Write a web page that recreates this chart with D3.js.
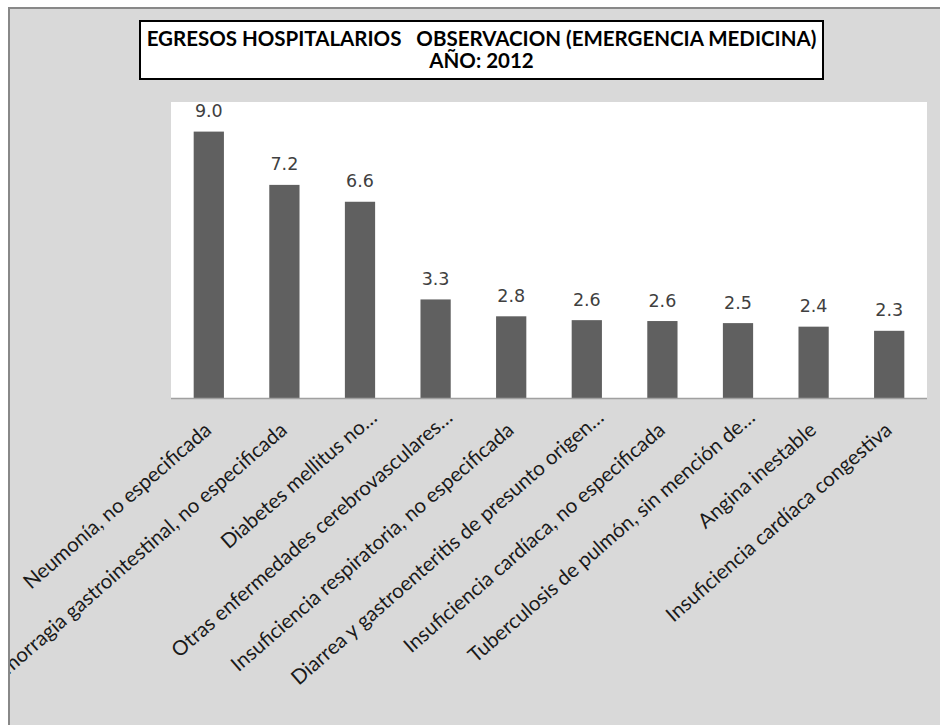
<!DOCTYPE html>
<html>
<head>
<meta charset="utf-8">
<script src="https://cdn.jsdelivr.net/npm/d3@7"></script>
<style>
  html, body { margin: 0; padding: 0; background: #fff; }
  svg { display: block; }
</style>
</head>
<body>
<svg id="chart" width="940" height="725"></svg>
<script>
// data
var titleLines = ['EGRESOS HOSPITALARIOS   OBSERVACION (EMERGENCIA MEDICINA)', 'AÑO: 2012'];
var categories = [
  'Neumonía, no especificada',
  'Hemorragia gastrointestinal, no especificada',
  'Diabetes mellitus no…',
  'Otras enfermedades cerebrovasculares…',
  'Insuficiencia respiratoria, no especificada',
  'Diarrea y gastroenteritis de presunto origen…',
  'Insuficiencia cardíaca, no especificada',
  'Tuberculosis de pulmón, sin mención de…',
  'Angina inestable',
  'Insuficiencia cardíaca congestiva'
];
var values = [9.0, 7.2, 6.63, 3.33, 2.76, 2.63, 2.6, 2.53, 2.41, 2.27];
var yDomain = [0, 10];

var svg = d3.select('#chart');

// chart area with the grey frame (only top and left edges show)
svg.append('rect')
  .attr('x', 8).attr('y', 7)
  .attr('width', 932).attr('height', 718)
  .attr('fill', '#d9d9d9');
svg.append('path')
  .attr('d', 'M9,725V8H940')
  .attr('fill', 'none')
  .attr('stroke', '#888')
  .attr('stroke-width', 2);

svg.append('clipPath').attr('id', 'frame')
  .append('rect').attr('x', 10).attr('y', 9).attr('width', 930).attr('height', 716);

// title box
var tb = { x: 140, y: 21, w: 683, h: 58 };
svg.append('rect')
  .attr('x', tb.x).attr('y', tb.y)
  .attr('width', tb.w).attr('height', tb.h)
  .attr('fill', '#fff')
  .attr('stroke', '#000')
  .attr('stroke-width', 2);

svg.append('g').selectAll('text')
  .data(titleLines)
  .enter().append('text')
    .attr('x', tb.x + tb.w / 2)
    .attr('y', (d, i) => 46 + i * 22)
    .attr('text-anchor', 'middle')
    .style('white-space', 'pre')
    .attr('font-family', 'Lato, "Open Sans", sans-serif')
    .attr('font-weight', 'bold')
    .attr('font-size', 20.5)
    .attr('fill', '#000')
    .text(d => d);

// plot area
var plot = { left: 171, right: 927, top: 102, bottom: 398 };

svg.append('rect')
  .attr('x', plot.left).attr('y', plot.top)
  .attr('width', plot.right - plot.left).attr('height', plot.bottom - plot.top)
  .attr('fill', '#fff');

var x = d3.scaleBand()
  .domain(categories)
  .range([plot.left, plot.right])
  .paddingInner(0.6)
  .paddingOuter(0.3);

var y = d3.scaleLinear()
  .domain(yDomain)
  .range([plot.bottom, plot.top]);

var rows = categories.map((c, i) => ({ name: c, value: values[i] }));

svg.append('g').selectAll('rect')
  .data(rows)
  .enter().append('rect')
    .attr('x', d => x(d.name))
    .attr('y', d => y(d.value))
    .attr('width', x.bandwidth())
    .attr('height', d => y(0) - y(d.value))
    .attr('fill', '#606060');

svg.append('g').selectAll('text')
  .data(rows)
  .enter().append('text')
    .attr('x', d => x(d.name) + x.bandwidth() / 2)
    .attr('y', d => y(d.value) - 14.5)
    .attr('text-anchor', 'middle')
    .attr('font-family', '"DejaVu Sans", sans-serif')
    .attr('font-size', 17.5)
    .attr('fill', '#404040')
    .text(d => d3.format('.1f')(d.value));

// category axis, clipped at the frame's left edge like the original
var xAxis = svg.append('g')
  .attr('clip-path', 'url(#frame)')
  .append('g')
  .attr('transform', 'translate(0,' + plot.bottom + ')')
  .call(d3.axisBottom(x).tickSize(0).tickPadding(0).tickSizeOuter(0));

xAxis.select('.domain')
  .attr('d', 'M' + plot.left + ',0.5H' + plot.right)
  .attr('stroke', '#a0a0a0')
  .attr('stroke-width', 1.5);

xAxis.selectAll('.tick text')
  .attr('x', 0).attr('y', 0).attr('dy', 0)
  .attr('dx', d => d.endsWith('…') ? 19 : 0)
  .attr('transform', 'translate(4,34) rotate(-41)')
  .attr('text-anchor', 'end')
  .attr('font-family', 'Lato, "Open Sans", sans-serif')
  .attr('font-size', 20.5)
  .attr('fill', '#1a1a1a');
</script>
</body>
</html>
